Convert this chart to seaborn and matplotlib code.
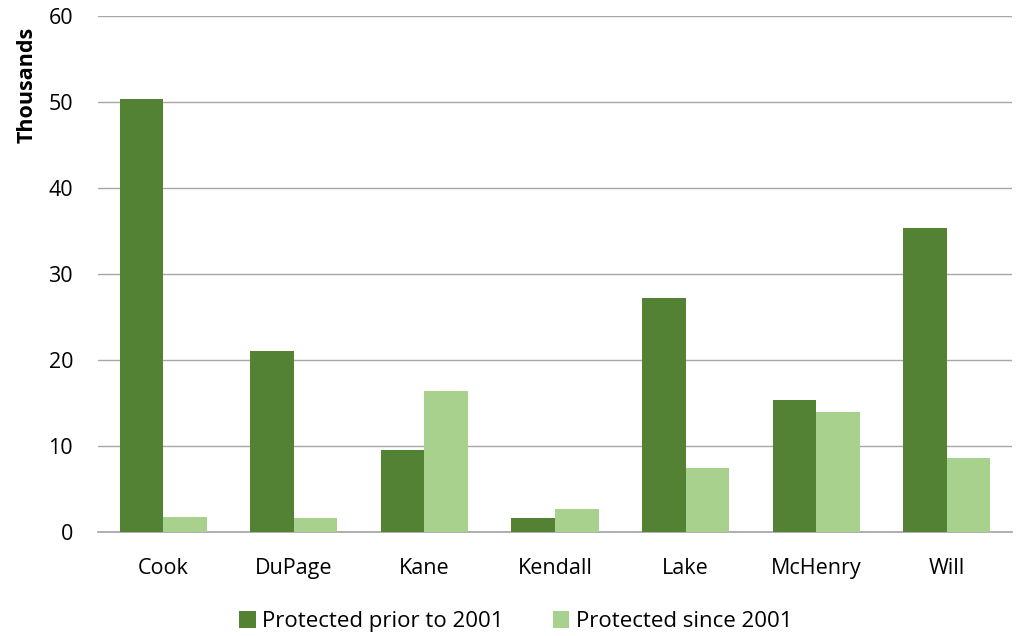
import pandas as pd
import seaborn as sns
import matplotlib.pyplot as plt

counties = ['Cook', 'DuPage', 'Kane', 'Kendall', 'Lake', 'McHenry', 'Will']
prior_2001 = [50.3, 21.1, 9.5, 1.6, 27.2, 15.3, 35.4]
since_2001 = [1.8, 1.6, 16.4, 2.7, 7.5, 13.9, 8.6]
series = ['Protected prior to 2001', 'Protected since 2001']

df = pd.DataFrame({'county': counties * 2,
                   'value': prior_2001 + since_2001,
                   'series': [series[0]] * 7 + [series[1]] * 7})

sns.set_theme(style='white')
plt.rcParams['font.family'] = ['Open Sans', 'DejaVu Sans']
plt.rcParams['text.color'] = 'black'

fig = plt.figure(figsize=(10.22, 6.36), dpi=100)
ax = fig.add_axes([98 / 1022, 104 / 636, 914 / 1022, 516 / 636])

sns.barplot(data=df, x='county', y='value', hue='series', ax=ax,
            palette=['#548235', '#a9d18e'], width=0.667, saturation=1,
            linewidth=0, zorder=3)

ax.set_ylim(0, 60)
ax.set_yticks(range(0, 61, 10))
ax.set_xlim(-0.5, 6.5)
ax.grid(axis='y', color='#a6a6a6', linewidth=1, zorder=0)
for s in ['top', 'right', 'left']:
    ax.spines[s].set_visible(False)
ax.spines['bottom'].set_color('#a6a6a6')
ax.tick_params(axis='both', length=0, labelsize=15.5, colors='black')
ax.tick_params(axis='x', pad=19)
ax.tick_params(axis='y', pad=18)
ax.set_xlabel('')
ax.set_ylabel('Thousands', fontsize=15.5, fontweight='bold', color='black')
ax.yaxis.set_label_coords(-0.066, 0.866)

ax.legend(loc='center', bbox_to_anchor=(0.457, -0.174), ncol=2,
          frameon=False, fontsize=16, handlelength=0.75, handleheight=0.75,
          columnspacing=2.2, handletextpad=0.3)

fig.savefig('out.png', dpi=100)
